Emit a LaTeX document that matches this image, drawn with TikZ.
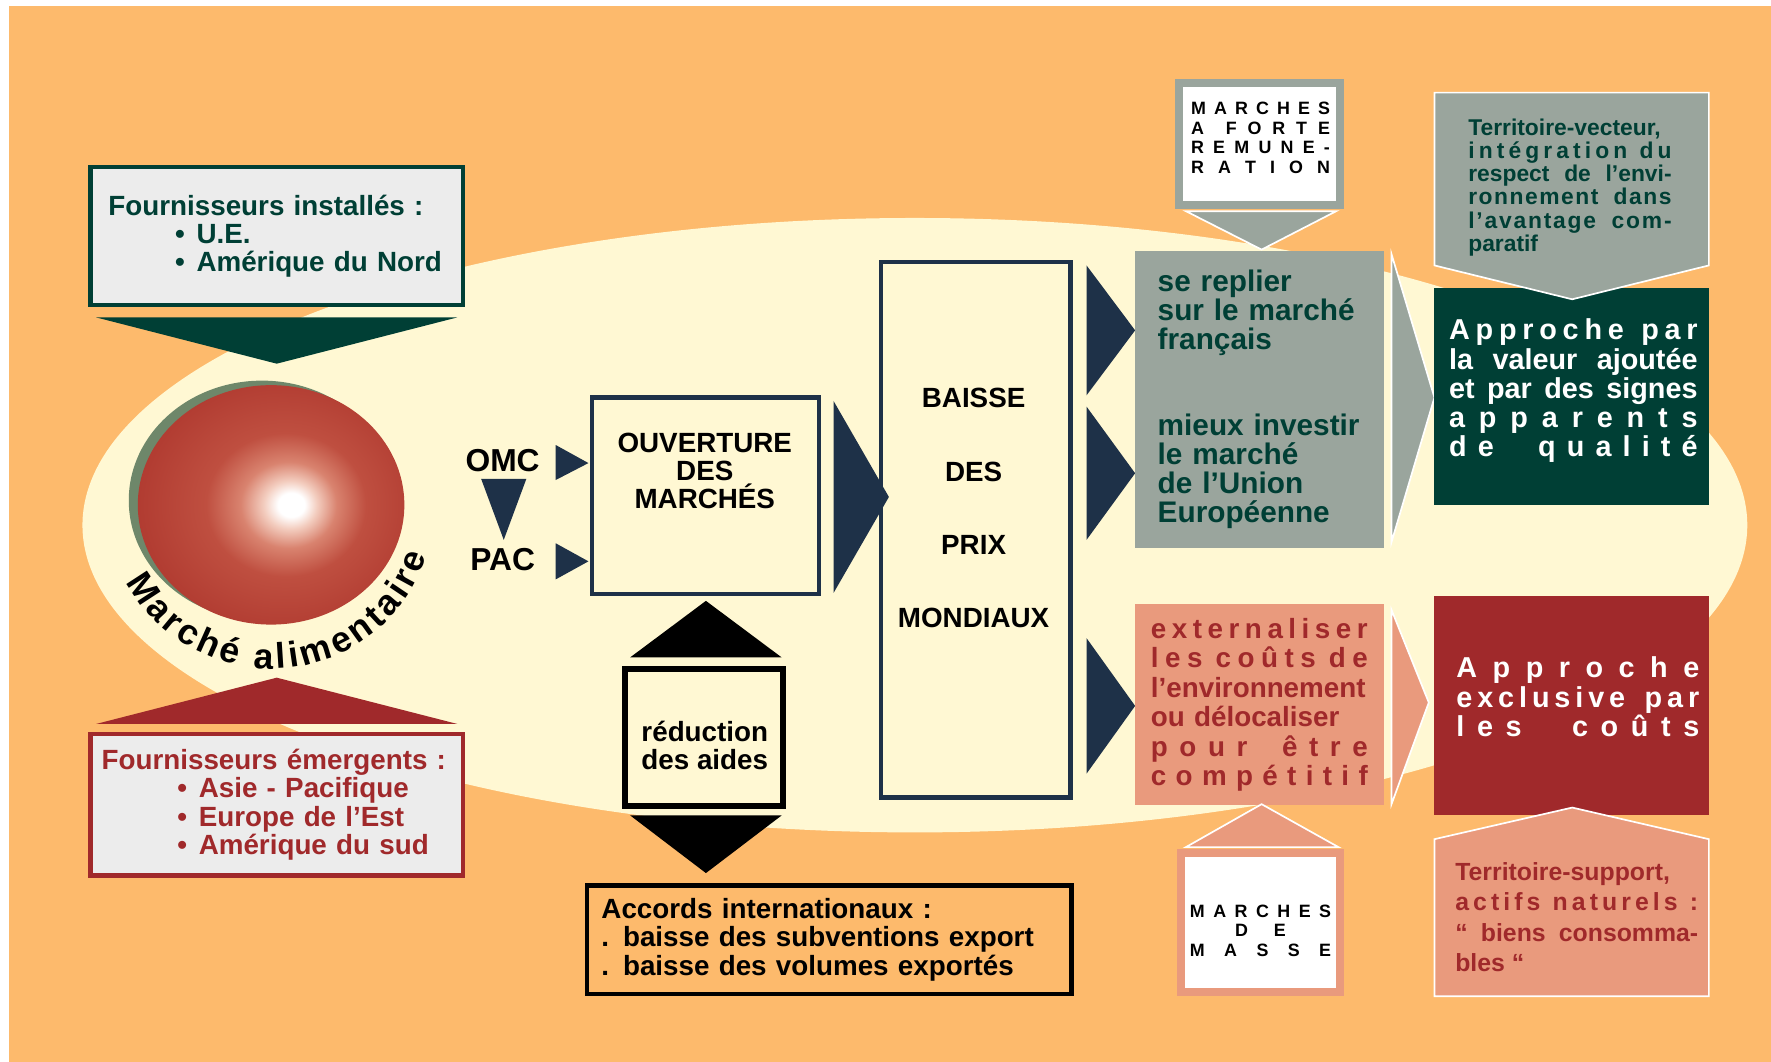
\documentclass[tikz,border=0pt]{standalone}
\usepackage{fontspec}
\setmainfont{Liberation Sans}
\usetikzlibrary{decorations.text}

\definecolor{fondorange}{HTML}{FDBA6C}
\definecolor{creme}{HTML}{FFF8D3}
\definecolor{marine}{HTML}{1E3148}
\definecolor{vertfonce}{HTML}{003F35}
\definecolor{grisvert}{HTML}{9AA59D}
\definecolor{saumon}{HTML}{E99A7D}
\definecolor{rouge}{HTML}{A0292B}
\definecolor{grisclair}{HTML}{ECECEC}
\definecolor{ombre}{HTML}{6E876A}
\definecolor{sphclair}{HTML}{F3CDBF}
\definecolor{sphrose}{HTML}{D9836F}
\definecolor{sphmilieu}{HTML}{BF4F40}
\definecolor{sphrouge}{HTML}{B03A30}
\definecolor{sphbord}{HTML}{A12E29}

\pgfdeclareradialshading{globe}{\pgfpoint{4bp}{0bp}}{%
  color(0bp)=(white); color(2.5bp)=(white); color(5bp)=(sphclair); color(9bp)=(sphrose);
  color(15bp)=(sphmilieu); color(28bp)=(sphrouge); color(36bp)=(sphbord); color(50bp)=(sphbord)}

% lettres etirees sur toute la ligne
\makeatletter
\newcommand\espacer[1]{\@espacer#1\@nil}
\def\@espacer#1#2\@nil{#1\ifx\relax#2\relax\else\hfil\@espacer#2\@nil\fi}
\makeatother
\newcommand\pleine[2]{\makebox[#1][s]{#2}}
\newcommand\puce[1]{\hspace*{#1}\makebox[3.8mm][l]{•}}

\begin{document}
\begin{tikzpicture}[x=0.2mm, y=-0.2mm,
  txt/.style={font=\bfseries\fontsize{14}{14.2}\selectfont},
  cadre/.style={draw=#1, line width=0.8mm},
  boite/.style={draw=#1, fill=grisclair, line width=0.8mm, text=#1, align=left, txt},
  fleche/.style={fill=#1, draw=white, line width=0.3mm},
  petit/.style={font=\bfseries\fontsize{9}{9.8}\selectfont, align=left}]

\useasboundingbox (0,0) rectangle (1568,940);
\fill[fondorange] (8,5) rectangle (1568,940);
\fill[creme] (810,465) ellipse [x radius=737, y radius=272];

% fournisseurs
\node[boite=vertfonce, minimum height=24.4mm, text width=59.6mm, inner xsep=3.2mm] (installes) at (245,209)
  {Fournisseurs installés :\\ \puce{11.8mm}U.E.\\ \puce{11.8mm}Amérique du Nord};
\fill[vertfonce] (85,281) -- (405,281) -- (245,322) -- cycle;

\fill[rouge] (85,641) -- (405,641) -- (245,600) -- cycle;
\node[boite=rouge, minimum height=25mm, text width=62mm, inner xsep=2mm] (emergents) at (245,712.5)
  {Fournisseurs émergents :\\ \puce{13.4mm}Asie - Pacifique\\ \puce{13.4mm}Europe de l’Est\\ \puce{13.4mm}Amérique du sud};

% marche alimentaire
\fill[ombre] (232,443) ellipse [x radius=118, y radius=106];
\shade[shading=globe] (240,447) ellipse [x radius=118, y radius=106];
\path[decorate, decoration={text along path, text align=fit to path,
  text={|\bfseries\fontsize{18}{18}\selectfont|Marché alimentaire}}]
  (240,447) ++(-128,68.1) arc[start angle=208, end angle=342, radius=29mm];

% OMC / PAC
\node[txt, font=\bfseries\fontsize{16}{16}\selectfont] (omc) at (445,408) {OMC};
\node[txt, font=\bfseries\fontsize{16}{16}\selectfont] (pac) at (445,495) {PAC};
\fill[marine] (492,394) -- (492,425) -- (521,410) -- cycle;
\fill[marine] (492,481) -- (492,513) -- (521,497) -- cycle;
\fill[marine] (426,424) -- (466,424) -- (446,478) -- cycle;

\node[cadre=marine, minimum width=40.2mm, minimum height=34.8mm] (ouverture) at (624.5,439) {};
\node[txt, align=center] at (624,417) {OUVERTURE\\DES\\MARCHÉS};
\fill[marine] (738,355) -- (738,525) -- (787,440) -- cycle;

% reduction des aides
\fill[black] (558,582) -- (692,582) -- (625,532) -- cycle;
\node[cadre=black, line width=1mm, minimum width=28mm, minimum height=24.2mm] (reduction) at (623.5,653) {};
\node[txt, align=center] at (624,660) {réduction\\des aides};
\fill[black] (558,722) -- (692,722) -- (625,773) -- cycle;
\node[cadre=black, minimum height=19.2mm, text width=80.6mm, inner xsep=2.6mm, txt, align=left] (accords) at (734,832)
  {Accords internationaux :\\. baisse des subventions export\\. baisse des volumes exportés};

% baisse des prix
\node[cadre=marine, minimum width=33.6mm, minimum height=94.8mm] (baisse) at (864,469) {};
\node[align=center, font=\bfseries\fontsize{14}{37}\selectfont] at (862,450) {BAISSE\\DES\\PRIX\\MONDIAUX};
\foreach \ya/\yb in {235/350, 360/478, 565/685}
  {\fill[marine] (962,\ya) -- (962,\yb) -- (1005,{(\ya+\yb)/2}) -- cycle;}

% strategies
\node[fill=grisvert, minimum height=52.6mm, text width=36mm, inner xsep=4mm, align=left, text=vertfonce,
  font=\bfseries\fontsize{15}{14.5}\selectfont] (replier) at (1115,353.5)
  {se replier\\sur le marché\\français\\[29pt]mieux investir\\le marché\\de l'Union\\Européenne};
\node[fill=saumon, minimum height=35.6mm, text width=38.4mm, inner xsep=2.8mm, align=left, text=rouge,
  font=\bfseries\fontsize{14}{14.9}\selectfont] (externaliser) at (1115,624)
  {\pleine{38.4mm}{\espacer{externaliser}}\\
   \pleine{38.4mm}{\espacer{les}\hfil\hfil\espacer{coûts}\hfil\hfil\espacer{de}}\\
   \pleine{38.4mm}{l’environnement}\\
   \pleine{38.4mm}{ou délocaliser}\\
   \pleine{38.4mm}{\espacer{pour}\hfil\hfil\hfil\espacer{être}}\\
   \pleine{38.4mm}{\espacer{compétitif}}};
\filldraw[fleche=grisvert] (1232,225) -- (1232,480) -- (1270,352) -- cycle;
\filldraw[fleche=saumon] (1232,540) -- (1232,712) -- (1265,622) -- cycle;

% marches
\node[draw=grisvert, line width=1.4mm, fill=white, minimum width=28.6mm, minimum height=21.6mm] (remuneration) at (1115,127.5) {};
\node[petit] at (1116,122) {\pleine{24.6mm}{\espacer{MARCHES}}\\\pleine{24.6mm}{A\hfil\hfil\espacer{FORTE}}\\
  \pleine{24.6mm}{\espacer{REMUNE-}}\\\pleine{24.6mm}{\espacer{RATION}}};
\filldraw[fleche=grisvert] (1050,187) -- (1183,187) -- (1117,221) -- cycle;

\filldraw[fleche=saumon] (1050,750) -- (1185,750) -- (1117,712) -- cycle;
\node[draw=saumon, line width=1.4mm, fill=white, minimum width=28.2mm, minimum height=24.6mm] (masse) at (1116,817) {};
\node[petit, align=center] at (1116,824) {\pleine{25mm}{\espacer{MARCHES}}\\\pleine{9mm}{\espacer{DE}}\\\pleine{25mm}{\espacer{MASSE}}};

% approches
\node[fill=vertfonce, minimum width=48.6mm, minimum height=38.4mm] (valeur) at (1391.5,351) {};
\filldraw[fleche=grisvert] (1270,82) -- (1513,82) -- (1513,235) -- (1392,265) -- (1270,235) -- cycle;
\node[text=vertfonce, align=left, font=\bfseries\fontsize{11.5}{11.7}\selectfont] (vecteur) at (1390,166)
  {Territoire-vecteur,\\
   \pleine{36mm}{\espacer{intégration}\hfil\hfil\hfil\espacer{du}}\\
   \pleine{36mm}{respect de l’envi-}\\
   \pleine{36mm}{\espacer{ronnement}\hspace{0.6em}\hfil\espacer{dans}}\\
   \pleine{36mm}{\espacer{l’avantage}\hspace{0.6em}\hfil\espacer{com-}}\\
   paratif};
\node[text=white, align=left, font=\bfseries\fontsize{14.5}{14.7}\selectfont] at (1393,346)
  {\pleine{44mm}{\espacer{Approche}\hfil\hfil\hfil\espacer{par}}\\
   \pleine{44mm}{la valeur ajoutée}\\
   \pleine{44mm}{et par des signes}\\
   \pleine{44mm}{\espacer{apparents}}\\
   \pleine{44mm}{\espacer{de}\hfil\hfil\hfil\hfil\espacer{qualité}}};

\node[fill=rouge, minimum width=48.6mm, minimum height=38.8mm] (exclusive) at (1391.5,625) {};
\node[text=white, align=left, font=\bfseries\fontsize{14.5}{14.7}\selectfont] at (1397,617)
  {\pleine{43mm}{\espacer{Approche}}\\
   \pleine{43mm}{\espacer{exclusive}\hfil\hfil\hfil\hfil\espacer{par}}\\
   \pleine{43mm}{\espacer{les}\hfil\hfil\hfil\hfil\espacer{coûts}}};
\filldraw[fleche=saumon] (1270,743) -- (1392,715) -- (1513,743) -- (1513,882) -- (1270,882) -- cycle;
\node[text=rouge, align=left, font=\bfseries\fontsize{12.5}{15.3}\selectfont] (support) at (1396,812)
  {Territoire-support,\\
   \pleine{43mm}{\espacer{actifs}\hfil\hfil\hfil\espacer{naturels}\hfil\hfil\hfil:}\\
   \pleine{43mm}{“ biens consomma-}\\
   bles “};
\end{tikzpicture}
\end{document}
